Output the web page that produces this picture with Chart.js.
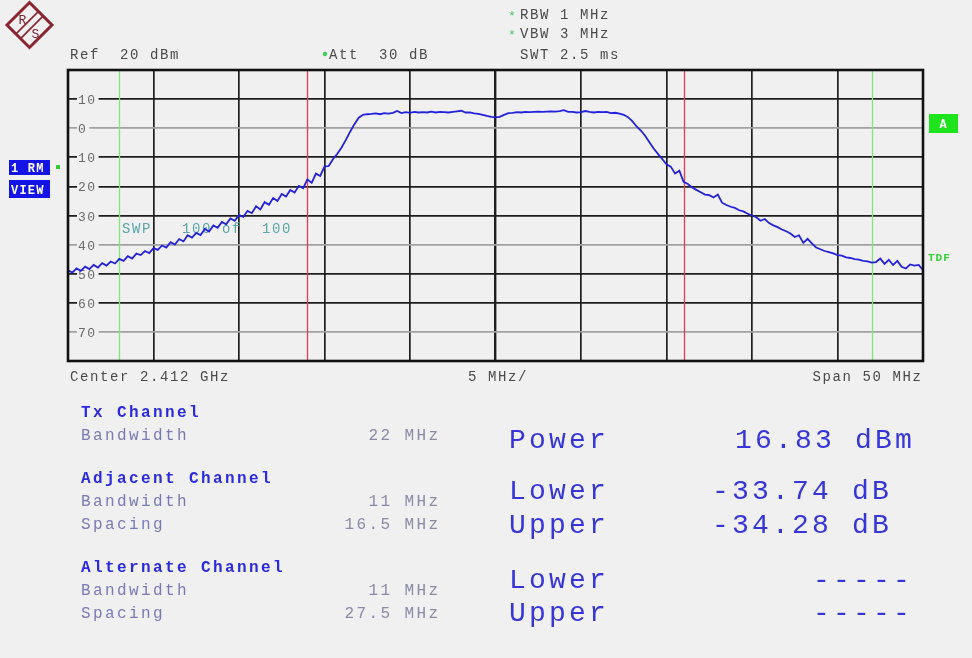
<!DOCTYPE html>
<html lang="en">
<head>
<meta charset="UTF-8" />
<title>ACP measurement 2.412 GHz</title>
<script src="https://cdn.jsdelivr.net/npm/chart.js"></script>
<style>
  html, body { margin: 0; padding: 0; background: #f0f0f0; }
  #wrap { width: 972px; height: 658px; }
</style>
</head>
<body>
<div id="wrap"><canvas id="spektrum" width="972" height="658"></canvas></div>
<script>
// frequency offset from centre (MHz) and trace level (dBm)
const freqOffsets = [
  -25, -24.75, -24.5, -24.25, -24, -23.75, -23.5, -23.25,
  -23, -22.75, -22.5, -22.25, -22, -21.75, -21.5, -21.25,
  -21, -20.75, -20.5, -20.25, -20, -19.75, -19.5, -19.25,
  -19, -18.75, -18.5, -18.25, -18, -17.75, -17.5, -17.25,
  -17, -16.75, -16.5, -16.25, -16, -15.75, -15.5, -15.25,
  -15, -14.75, -14.5, -14.25, -14, -13.75, -13.5, -13.25,
  -13, -12.75, -12.5, -12.25, -12, -11.75, -11.5, -11.25,
  -11, -10.75, -10.5, -10.25, -10, -9.75, -9.5, -9.25,
  -9, -8.75, -8.5, -8.25, -8, -7.75, -7.5, -7.25,
  -7, -6.75, -6.5, -6.25, -6, -5.75, -5.5, -5.25,
  -5, -4.75, -4.5, -4.25, -4, -3.75, -3.5, -3.25,
  -3, -2.75, -2.5, -2.25, -2, -1.75, -1.5, -1.25,
  -1, -0.75, -0.5, -0.25, 0, 0.25, 0.5, 0.75,
  1, 1.25, 1.5, 1.75, 2, 2.25, 2.5, 2.75,
  3, 3.25, 3.5, 3.75, 4, 4.25, 4.5, 4.75,
  5, 5.25, 5.5, 5.75, 6, 6.25, 6.5, 6.75,
  7, 7.25, 7.5, 7.75, 8, 8.25, 8.5, 8.75,
  9, 9.25, 9.5, 9.75, 10, 10.25, 10.5, 10.75,
  11, 11.25, 11.5, 11.75, 12, 12.25, 12.5, 12.75,
  13, 13.25, 13.5, 13.75, 14, 14.25, 14.5, 14.75,
  15, 15.25, 15.5, 15.75, 16, 16.25, 16.5, 16.75,
  17, 17.25, 17.5, 17.75, 18, 18.25, 18.5, 18.75,
  19, 19.25, 19.5, 19.75, 20, 20.25, 20.5, 20.75,
  21, 21.25, 21.5, 21.75, 22, 22.25, 22.5, 22.75,
  23, 23.25, 23.5, 23.75, 24, 24.25, 24.5, 24.75,
  25
];
const traceLevels = [
  -48.8, -49.6, -48.2, -49.0, -47.6, -48.4, -47.0, -47.9,
  -46.4, -47.2, -45.8, -46.5, -44.9, -45.6, -44.0, -44.8,
  -43.1, -43.6, -42.2, -42.9, -41.2, -41.8, -40.3, -41.0,
  -39.2, -40.0, -38.1, -38.9, -36.8, -37.6, -36.0, -36.7,
  -34.6, -35.5, -33.4, -34.2, -32.2, -33.0, -31.0, -31.8,
  -29.8, -30.5, -28.4, -29.2, -26.8, -27.9, -25.4, -26.3,
  -24.0, -25.0, -22.6, -23.5, -21.2, -22.1, -19.8, -20.6,
  -17.6, -18.8, -15.6, -16.4, -13.2, -13.0, -10.6, -8.8,
  -6.6, -4.0, -1.2, 1.4, 3.6, 4.6, 4.8, 4.9,
  5.1, 4.8, 5.2, 5.0, 5.3, 5.9, 5.2, 5.5,
  5.3, 5.6, 5.4, 5.5, 5.4, 5.7, 5.4, 5.6,
  5.5, 5.4, 5.6, 5.8, 6.0, 5.4, 5.4, 5.1,
  4.9, 4.6, 4.2, 3.9, 3.7, 3.9, 4.6, 5.2,
  5.3, 5.5, 5.4, 5.6, 5.5, 5.6, 5.7, 5.6,
  5.7, 5.8, 5.7, 5.9, 6.2, 5.6, 5.6, 5.4,
  5.5, 5.9, 5.6, 5.4, 5.6, 5.5, 5.6, 5.2,
  5.3, 5.0, 4.6, 3.8, 2.4, 0.6, -0.8, -2.6,
  -4.8, -7.0, -8.8, -10.6, -12.4, -13.2, -15.6, -14.6,
  -18.4, -19.2, -20.4, -21.2, -22.0, -22.8, -23.0, -23.8,
  -22.8, -25.6, -26.4, -27.0, -27.4, -28.2, -28.6, -29.4,
  -30.0, -30.6, -31.8, -31.2, -32.6, -33.4, -34.0, -34.8,
  -35.4, -36.2, -37.4, -36.8, -39.4, -38.0, -39.6, -41.0,
  -41.6, -42.2, -42.6, -43.0, -43.6, -43.8, -44.4, -44.6,
  -45.0, -45.2, -45.6, -45.8, -46.2, -46.0, -44.8, -46.6,
  -45.2, -47.0, -45.6, -47.6, -48.2, -46.8, -47.2, -47.0,
  -48.8
];
const levelTicks = [10, 0, -10, -20, -30, -40, -50, -60, -70];
const faintLevels = [0, -40, -70];
const txChannelEdges = [-11, 11];
const adjChannelEdges = [-22, 22];

const MONO = '"Liberation Mono", "DejaVu Sans Mono", monospace';

function put(ctx, s, x, y, size, color, opts = {}) {
  const sp = opts.spacing || 0;
  ctx.font = (opts.bold ? 'bold ' : '') + size + 'px ' + MONO;
  ctx.fillStyle = color;
  ctx.letterSpacing = sp + 'px';
  ctx.textAlign = opts.align || 'left';
  ctx.textBaseline = 'alphabetic';
  ctx.fillText(s, opts.align === 'right' ? x + sp : x, y);
  ctx.letterSpacing = '0px';
}

function drawLogo(ctx) {
  const cx = 29.5, cy = 25, r = 22.5;
  ctx.save();
  ctx.strokeStyle = '#8a2430';
  ctx.lineWidth = 3;
  ctx.beginPath();
  ctx.moveTo(cx, cy - r);
  ctx.lineTo(cx + r, cy);
  ctx.lineTo(cx, cy + r);
  ctx.lineTo(cx - r, cy);
  ctx.closePath();
  ctx.stroke();
  ctx.lineWidth = 1.7;
  [-2.3, 2.3].forEach(o => {
    ctx.beginPath();
    ctx.moveTo(cx + r / 2 + o, cy - r / 2 + o);
    ctx.lineTo(cx - r / 2 + o, cy + r / 2 + o);
    ctx.stroke();
  });
  ctx.fillStyle = '#7a2030';
  ctx.font = '13px ' + MONO;
  ctx.textAlign = 'center';
  ctx.fillText('R', cx - 7, cy - 1);
  ctx.fillText('S', cx + 6, cy + 13);
  ctx.restore();
}

const analyzerDecor = {
  id: 'analyzerDecor',
  beforeDatasetsDraw(chart) {
    const { ctx, chartArea: a, scales: { x, y } } = chart;
    ctx.save();
    ctx.lineWidth = 1.3;
    ctx.strokeStyle = '#e83a55';
    txChannelEdges.forEach(f => {
      const px = Math.round(x.getPixelForValue(f)) + 0.5;
      ctx.beginPath(); ctx.moveTo(px, a.top); ctx.lineTo(px, a.bottom); ctx.stroke();
    });
    ctx.strokeStyle = '#86e486';
    adjChannelEdges.forEach(f => {
      const px = Math.round(x.getPixelForValue(f)) + 0.5;
      ctx.beginPath(); ctx.moveTo(px, a.top); ctx.lineTo(px, a.bottom); ctx.stroke();
    });

    // level labels sit inside the grid, breaking the line
    levelTicks.forEach(v => {
      const py = y.getPixelForValue(v);
      const s = String(Math.abs(v));
      ctx.font = '13px ' + MONO;
      ctx.letterSpacing = '1.5px';
      const w = ctx.measureText(s).width;
      ctx.fillStyle = '#f0f0f0';
      ctx.fillRect(a.left + 9, py - 5, w + 3, 10);
      put(ctx, s, a.left + 10, py + 5, 13, '#6a6a6a', { spacing: 1.5 });
    });

    put(ctx, 'SWP   100 of  100', 122, 233, 14, '#5aa6a6', { spacing: 1.6 });
    ctx.restore();
  },
  afterDraw(chart) {
    const { ctx, chartArea: a } = chart;
    ctx.save();
    ctx.strokeStyle = '#111';
    ctx.lineWidth = 2.6;
    ctx.strokeRect(a.left, a.top, a.right - a.left, a.bottom - a.top);

    drawLogo(ctx);

    // header settings
    const hdr = '#4a4a4a';
    put(ctx, 'Ref  20 dBm', 70, 59, 14, hdr, { spacing: 1.6 });
    ctx.fillStyle = '#3ccf5a';
    ctx.beginPath(); ctx.arc(325, 54, 2.2, 0, Math.PI * 2); ctx.fill();
    put(ctx, 'Att  30 dB', 329, 59, 14, hdr, { spacing: 1.6 });
    put(ctx, '*', 508, 20, 13, '#4fc46a');
    put(ctx, 'RBW 1 MHz', 520, 19, 14, hdr, { spacing: 1.6 });
    put(ctx, '*', 508, 39, 13, '#4fc46a');
    put(ctx, 'VBW 3 MHz', 520, 38, 14, hdr, { spacing: 1.6 });
    put(ctx, 'SWT 2.5 ms', 520, 59, 14, hdr, { spacing: 1.6 });

    // trace indicator boxes on the left
    ctx.fillStyle = '#1414e6';
    ctx.fillRect(9, 160, 41, 15);
    ctx.fillRect(9, 180, 41, 18);
    put(ctx, '1 RM', 11, 172, 12, '#ffffff', { bold: true, spacing: 1.2 });
    put(ctx, 'VIEW', 11, 194, 12, '#ffffff', { bold: true, spacing: 1.2 });
    ctx.fillStyle = '#2fd02f';
    ctx.fillRect(56, 165, 4, 4);

    // right side markers
    ctx.fillStyle = '#1ee41e';
    ctx.fillRect(929, 114, 29, 19);
    put(ctx, 'A', 943, 128, 12, '#ffffff', { bold: true, align: 'center' });
    put(ctx, 'TDF', 928, 261, 11, '#35d035', { bold: true, spacing: 1 });

    // span line
    put(ctx, 'Center 2.412 GHz', 70, 381, 14, hdr, { spacing: 1.6 });
    put(ctx, '5 MHz/', 468, 381, 14, hdr, { spacing: 1.6 });
    put(ctx, 'Span 50 MHz', 921, 381, 14, hdr, { spacing: 1.6, align: 'right' });

    // channel table
    const head = '#2a2ae2', lab = '#7a7ab4', val = '#8a8aa6';
    const tf = 16, ts = 2.4;
    put(ctx, 'Tx Channel', 81, 417, tf, head, { bold: true, spacing: ts });
    put(ctx, 'Bandwidth', 81, 440, tf, lab, { spacing: ts });
    put(ctx, '22 MHz', 438, 440, tf, val, { spacing: ts, align: 'right' });
    put(ctx, 'Adjacent Channel', 81, 483, tf, head, { bold: true, spacing: ts });
    put(ctx, 'Bandwidth', 81, 506, tf, lab, { spacing: ts });
    put(ctx, '11 MHz', 438, 506, tf, val, { spacing: ts, align: 'right' });
    put(ctx, 'Spacing', 81, 529, tf, lab, { spacing: ts });
    put(ctx, '16.5 MHz', 438, 529, tf, val, { spacing: ts, align: 'right' });
    put(ctx, 'Alternate Channel', 81, 572, tf, head, { bold: true, spacing: ts });
    put(ctx, 'Bandwidth', 81, 595, tf, lab, { spacing: ts });
    put(ctx, '11 MHz', 438, 595, tf, val, { spacing: ts, align: 'right' });
    put(ctx, 'Spacing', 81, 618, tf, lab, { spacing: ts });
    put(ctx, '27.5 MHz', 438, 618, tf, val, { spacing: ts, align: 'right' });

    // results
    const res = '#3535da', rf = 28, rs = 3.2;
    put(ctx, 'Power', 509, 448, rf, res, { spacing: rs });
    put(ctx, '16.83 dBm', 735, 448, rf, res, { spacing: rs });
    put(ctx, 'Lower', 509, 499, rf, res, { spacing: rs });
    put(ctx, '-33.74 dB', 712, 499, rf, res, { spacing: rs });
    put(ctx, 'Upper', 509, 533, rf, res, { spacing: rs });
    put(ctx, '-34.28 dB', 712, 533, rf, res, { spacing: rs });
    put(ctx, 'Lower', 509, 588, rf, res, { spacing: rs });
    put(ctx, '-----', 813, 588, rf, res, { spacing: rs });
    put(ctx, 'Upper', 509, 621, rf, res, { spacing: rs });
    put(ctx, '-----', 813, 621, rf, res, { spacing: rs });
    ctx.restore();
  }
};

const ctx = document.getElementById('spektrum').getContext('2d');
new Chart(ctx, {
  type: 'line',
  data: {
    datasets: [{
      label: 'Trace 1',
      data: freqOffsets.map((f, i) => ({ x: f, y: traceLevels[i] })),
      borderColor: '#2222dc',
      borderWidth: 1.8,
      pointRadius: 0,
      tension: 0,
      fill: false
    }]
  },
  options: {
    responsive: false,
    animation: false,
    events: [],
    layout: { padding: { left: 68, top: 70, right: 49, bottom: 297 } },
    plugins: { legend: { display: false }, tooltip: { enabled: false } },
    scales: {
      x: {
        type: 'linear',
        min: -25,
        max: 25,
        ticks: { display: false, stepSize: 5 },
        border: { display: false },
        grid: {
          drawTicks: false,
          color: '#1e1e1e',
          lineWidth: c => (c.tick && c.tick.value === 0 ? 2.4 : 1.7)
        },
        afterFit: s => { s.height = 0; }
      },
      y: {
        min: -80,
        max: 20,
        ticks: { display: false, stepSize: 10 },
        border: { display: false },
        grid: {
          drawTicks: false,
          color: c => (c.tick && faintLevels.includes(c.tick.value) ? '#a2a2a2' : '#1e1e1e'),
          lineWidth: 1.7
        },
        afterFit: s => { s.width = 0; }
      }
    }
  },
  plugins: [analyzerDecor]
});
</script>
</body>
</html>
